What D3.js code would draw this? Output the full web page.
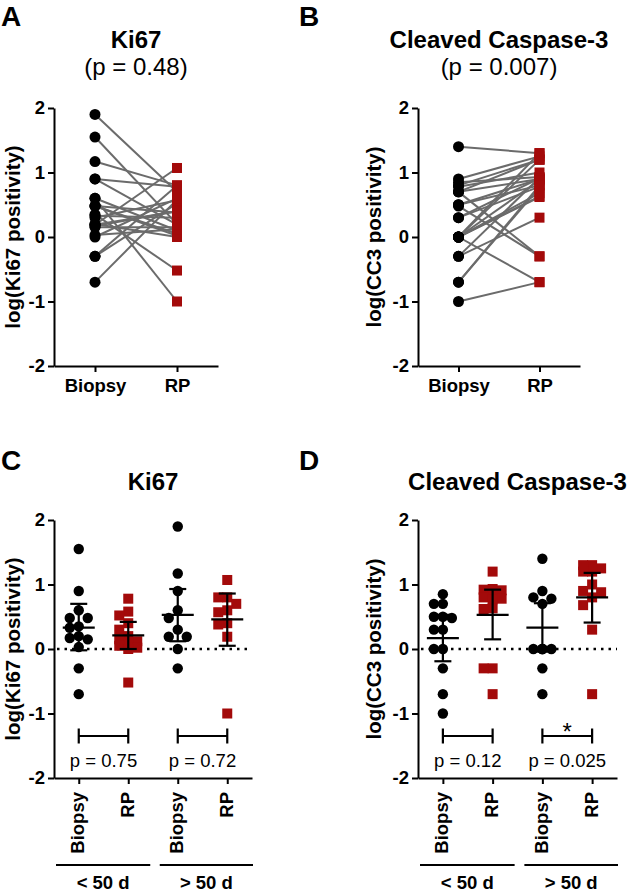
<!DOCTYPE html>
<html><head><meta charset="utf-8">
<script src="https://cdn.jsdelivr.net/npm/d3@7"></script>
<style>
body{margin:0;background:#fff}
svg text{font-family:"Liberation Sans",Arial,Helvetica,sans-serif}
</style>
</head><body>
<svg id="chart" width="630" height="892"></svg>
<script>
// ---------------- DATA ----------------
const sampleCats = ["Biopsy", "RP"];
const timeGroups = ["< 50 d", "> 50 d"];
const yTicks = [-2, -1, 0, 1, 2];

// Ki67 (log positivity), paired biopsy -> RP, split by interval
const ki67BiopsyLt50 = [1.55, 0.9, 0.6, 0.48, 0.48, 0.35, 0.33, 0.2, 0.17, 0.15, 0.03, -0.3, -0.7];
const ki67RPLt50     = [0.2, 0.78, 0.1, 0.05, 0.02, -0.52, 0.3, 0.0, 0.4, 0.15, 0.12, 0.52, 0.58];
const ki67BiopsyGt50 = [1.9, 1.17, 0.9, 0.6, 0.48, 0.3, 0.19, 0.19, 0.0, -0.3];
const ki67RPGt50     = [0.7, 0.8, 0.19, -1.0, 0.38, 0.57, 1.07, 0.4, 0.6, 0.8];

// Cleaved caspase-3 (log positivity)
const cc3BiopsyLt50 = [0.85, 0.7, 0.7, 0.5, 0.5, 0.48, 0.3, 0.3, 0.0, 0.0, -0.3, -0.7, -1.0];
const cc3RPLt50     = [0.93, -0.3, 1.2, 0.9, 0.8, -0.3, 0.78, 0.91, 0.63, 0.62, 0.92, 0.77, -0.7];
const cc3BiopsyGt50 = [1.4, 0.9, 0.8, 0.78, 0.7, 0.0, 0.0, 0.0, 0.0, 0.0, -0.3, -0.7];
const cc3RPGt50     = [1.3, 1.25, 1.2, 1.0, 0.9, -0.7, 1.3, 1.2, 0.88, 0.68, 0.3, 0.8];

// mean and 95% CI per column (Biopsy<50, RP<50, Biopsy>50, RP>50)
const ki67Mean = [0.33, 0.21, 0.53, 0.46];
const ki67Lo   = [-0.02, 0.0, 0.12, 0.05];
const ki67Hi   = [0.70, 0.42, 0.93, 0.86];
const cc3Mean  = [0.17, 0.53, 0.33, 0.80];
const cc3Lo    = [-0.19, 0.15, -0.04, 0.41];
const cc3Hi    = [0.53, 0.92, 0.71, 1.18];

const pPairedKi67 = "(p = 0.48)";
const pPairedCC3 = "(p = 0.007)";
const pGroupKi67 = ["p = 0.75", "p = 0.72"];
const pGroupCC3 = ["p = 0.12", "p = 0.025"];
const sigGroupCC3 = ["", "*"];

// ---------------- DRAW ----------------
const svg = d3.select("#chart");
const RED = "#a30a0a";
const GRAY = "#6b6b6b";
const fmt = d => String(d);

function styleAxis(g) {
  g.selectAll("path.domain").attr("stroke", "#000").attr("stroke-width", 2);
  g.selectAll(".tick line").attr("stroke", "#000").attr("stroke-width", 2);
  g.selectAll(".tick text").attr("fill", "#000").attr("font-weight", "bold").attr("font-size", 18.5);
}

function yAxisBlock(g, y, xAxis, label, labelX) {
  const ax = g.append("g").attr("transform", `translate(${xAxis},0)`)
    .call(d3.axisLeft(y).tickValues(yTicks).tickFormat(fmt).tickSize(6).tickSizeOuter(0).tickPadding(3));
  styleAxis(ax);
  const yc = (y.range()[0] + y.range()[1]) / 2;
  g.append("text").attr("transform", `translate(${labelX},${yc}) rotate(-90)`)
    .attr("text-anchor", "middle").attr("font-weight", "bold").attr("font-size", 20.5).text(label);
}

function letter(text, x, yb) {
  svg.append("text").attr("x", x).attr("y", yb).attr("font-weight", "bold").attr("font-size", 28).text(text);
}

function pairedPanel(o) {
  const g = svg.append("g");
  const y = d3.scaleLinear().domain([-2, 2]).range([366, 108]);
  const x = d3.scalePoint().domain(sampleCats).range([o.x0, o.x1]).padding(0.5);
  const cx = (o.x0 + o.x1) / 2;
  g.append("text").attr("x", cx).attr("y", 48).attr("text-anchor", "middle")
    .attr("font-weight", "bold").attr("font-size", 24).text(o.title);
  g.append("text").attr("x", cx).attr("y", 75).attr("text-anchor", "middle")
    .attr("font-size", 24).text(o.sub);
  const pairs = o.biopsy.map((b, i) => [b, o.rp[i]]);
  g.append("g").selectAll("line").data(pairs).join("line")
    .attr("x1", x("Biopsy")).attr("x2", x("RP"))
    .attr("y1", d => y(d[0])).attr("y2", d => y(d[1]))
    .attr("stroke", GRAY).attr("stroke-width", 2);
  g.append("g").selectAll("circle").data(o.biopsy).join("circle")
    .attr("cx", x("Biopsy")).attr("cy", d => y(d)).attr("r", 5.5).attr("fill", "#000");
  g.append("g").selectAll("rect").data(o.rp).join("rect")
    .attr("x", x("RP") - 5).attr("y", d => y(d) - 5).attr("width", 10).attr("height", 10).attr("fill", RED);
  yAxisBlock(g, y, o.x0, o.ylabel, o.labelX);
  const xa = g.append("g").attr("transform", "translate(0,366)")
    .call(d3.axisBottom(x).tickSize(6).tickSizeOuter(0).tickPadding(7));
  styleAxis(xa);
}

// simple column scatter spreading: at most three sub-columns, least-overlap fallback
function swarm(vals, y, cx) {
  const placed = [];
  const cand = [0, -9, 9];
  vals.slice().sort((a, b) => b - a).forEach(v => {
    const py = y(v);
    let best = null, bestD = -1;
    for (const c of cand) {
      const d = placed.length ? d3.min(placed, p => Math.hypot(p.x - (cx + c), p.y - py)) : Infinity;
      if (d >= 9) { best = c; bestD = d; break; }
      if (d > bestD) { bestD = d; best = c; }
    }
    placed.push({ x: cx + best, y: py, v });
  });
  return placed;
}

function groupedPanel(o) {
  const g = svg.append("g");
  const y = d3.scaleLinear().domain([-2, 2]).range([778, 520]);
  const cols = [];
  timeGroups.forEach(t => sampleCats.forEach(s => cols.push(t + "|" + s)));
  const x = d3.scalePoint().domain(cols).range([o.x0, o.x1]).padding(0.5);
  const cx = (o.x0 + o.x1) / 2;
  g.append("text").attr("x", cx).attr("y", 490).attr("text-anchor", "middle")
    .attr("font-weight", "bold").attr("font-size", 24).text(o.title);
  g.append("line").attr("x1", o.x0 + 3).attr("x2", o.x1).attr("y1", y(0)).attr("y2", y(0))
    .attr("stroke", "#000").attr("stroke-width", 2.5).attr("stroke-dasharray", "2.5,5");
  o.series.forEach((vals, i) => {
    const c = x(cols[i]);
    const pts = swarm(vals, y, c);
    if (i % 2 === 0) {
      g.append("g").selectAll("circle").data(pts).join("circle")
        .attr("cx", d => d.x).attr("cy", d => d.y).attr("r", 5.2).attr("fill", "#000");
    } else {
      g.append("g").selectAll("rect").data(pts).join("rect")
        .attr("x", d => d.x - 5).attr("y", d => d.y - 5).attr("width", 10).attr("height", 10).attr("fill", RED);
    }
  });
  o.mean.forEach((m, i) => {
    const c = x(cols[i]);
    const eb = g.append("g").attr("stroke", "#000").attr("stroke-width", 2.2);
    eb.append("line").attr("x1", c).attr("x2", c).attr("y1", y(o.lo[i])).attr("y2", y(o.hi[i]));
    eb.append("line").attr("x1", c - 16).attr("x2", c + 16).attr("y1", y(m)).attr("y2", y(m));
    eb.append("line").attr("x1", c - 8.5).attr("x2", c + 8.5).attr("y1", y(o.lo[i])).attr("y2", y(o.lo[i]));
    eb.append("line").attr("x1", c - 8.5).attr("x2", c + 8.5).attr("y1", y(o.hi[i])).attr("y2", y(o.hi[i]));
  });
  timeGroups.forEach((t, k) => {
    const a = x(t + "|Biopsy"), b = x(t + "|RP");
    const by = 736;
    const br = g.append("g").attr("stroke", "#000").attr("stroke-width", 2.2);
    br.append("line").attr("x1", a).attr("x2", b).attr("y1", by).attr("y2", by);
    br.append("line").attr("x1", a).attr("x2", a).attr("y1", by - 7.5).attr("y2", by + 7.5);
    br.append("line").attr("x1", b).attr("x2", b).attr("y1", by - 7.5).attr("y2", by + 7.5);
    g.append("text").attr("x", (a + b) / 2).attr("y", 767).attr("text-anchor", "middle")
      .attr("font-size", 18.5).text(o.p[k]);
    if (o.sig && o.sig[k]) {
      g.append("text").attr("x", (a + b) / 2).attr("y", 740).attr("text-anchor", "middle")
        .attr("font-size", 24).text(o.sig[k]);
    }
  });
  yAxisBlock(g, y, o.x0, o.ylabel, o.labelX);
  const xa = g.append("g").attr("transform", "translate(0,778)")
    .call(d3.axisBottom(x).tickSize(6).tickSizeOuter(0).tickFormat(""));
  styleAxis(xa);
  cols.forEach(cn => {
    const c = x(cn);
    g.append("text").attr("transform", `translate(${c},792) rotate(-90)`)
      .attr("text-anchor", "end").attr("dy", "0.3em")
      .attr("font-weight", "bold").attr("font-size", 18.5).text(cn.split("|")[1]);
  });
  timeGroups.forEach((t, k) => {
    const a = x(t + "|Biopsy"), b = x(t + "|RP");
    const lx0 = k === 0 ? o.x0 + 2 : (a - 18);
    const lx1 = k === 0 ? (b + 22) : o.x1 + 1;
    g.append("line").attr("x1", lx0).attr("x2", lx1).attr("y1", 865).attr("y2", 865)
      .attr("stroke", "#000").attr("stroke-width", 2.2);
    g.append("text").attr("x", (lx0 + lx1) / 2).attr("y", 889).attr("text-anchor", "middle")
      .attr("font-weight", "bold").attr("font-size", 18.5).text(t);
  });
}

letter("A", 1, 26);
letter("B", 299, 26);
letter("C", 1, 470);
letter("D", 299, 470);

pairedPanel({ x0: 54, x1: 218, title: "Ki67", sub: pPairedKi67, ylabel: "log(Ki67 positivity)", labelX: 20,
  biopsy: ki67BiopsyLt50.concat(ki67BiopsyGt50), rp: ki67RPLt50.concat(ki67RPGt50) });
pairedPanel({ x0: 418, x1: 580, title: "Cleaved Caspase-3", sub: pPairedCC3, ylabel: "log(CC3 positivity)", labelX: 381,
  biopsy: cc3BiopsyLt50.concat(cc3BiopsyGt50), rp: cc3RPLt50.concat(cc3RPGt50) });

groupedPanel({ x0: 54, x1: 252, title: "Ki67", ylabel: "log(Ki67 positivity)", labelX: 20,
  series: [ki67BiopsyLt50, ki67RPLt50, ki67BiopsyGt50, ki67RPGt50],
  mean: ki67Mean, lo: ki67Lo, hi: ki67Hi, p: pGroupKi67 });
groupedPanel({ x0: 418, x1: 617, title: "Cleaved Caspase-3", ylabel: "log(CC3 positivity)", labelX: 381,
  series: [cc3BiopsyLt50, cc3RPLt50, cc3BiopsyGt50, cc3RPGt50],
  mean: cc3Mean, lo: cc3Lo, hi: cc3Hi, p: pGroupCC3, sig: sigGroupCC3 });
</script>
</body></html>
